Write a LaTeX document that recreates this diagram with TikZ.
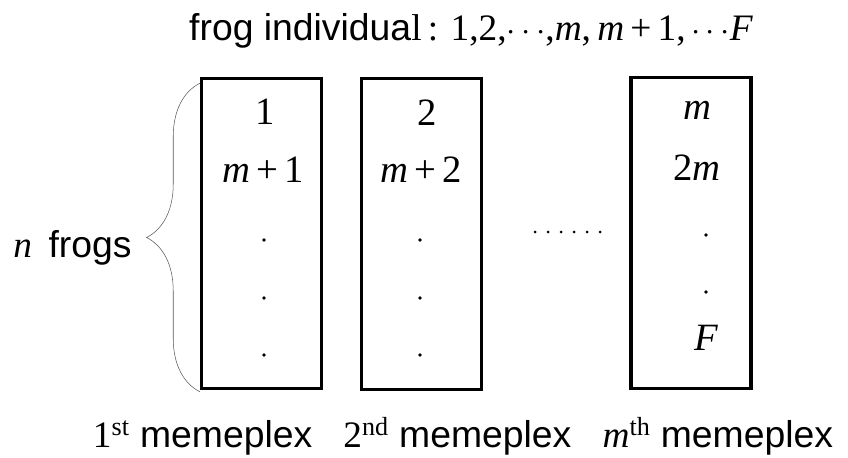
\documentclass[tikz,border=0pt]{standalone}
\usepackage{fontspec}
\setmainfont{Liberation Sans}
\newfontfamily\tnr{Liberation Serif}
\usetikzlibrary{decorations.pathreplacing}
\newcommand{\mv}[1]{{\tnr\itshape #1}}
\newcommand{\nv}[1]{{\tnr #1}}

\begin{document}
\begin{tikzpicture}[x=0.75pt,y=-0.75pt,
    plex/.style={draw, line width=2.4pt, minimum width=90pt, minimum height=233pt, inner sep=0pt},
    entry/.style={inner sep=0pt, font=\fontsize{29}{32}\selectfont\tnr}]

    \useasboundingbox (0,0) rectangle (848,457);
    \fontsize{28}{32}\selectfont

    \node (title) at (471,31) {frog individua\nv{l}\,\nv{: 1,2,$\cdots$,\mv{m},\,\mv{m}\,+\,1,$\,\cdots$\mv{F}}};

    \node[plex] (plex1) at (261.5,233.5) {};
    \node[plex] (plex2) at (421.5,234) {};
    \node[plex] (plexm) at (691,233) {};

    %first memeplex
    \node[entry] (a1) at (265,112) {1};
    \node[entry] (a2) at (263,170) {\mv{m}\,+\,1};
    %second memeplex
    \node[entry] (b1) at (427,113) {2};
    \node[entry] (b2) at (421,170) {\mv{m}\,+\,2};
    %m-th memeplex
    \node[entry] (c1) at (697,110) {\mv{m}};
    \node[entry] (c2) at (697,168) {2\mv{m}};
    \node[entry] (c3) at (706,338) {\mv{F}};
    %dots
    \foreach \y in {240,298,355} {
        \fill (264,\y) circle (1.8);
        \fill (420,\y) circle (1.8);
    }
    \foreach \y in {235,292} {
        \fill (706,\y) circle (1.8);
    }
    \foreach \x in {535,548,...,600} {
        \fill (\x,232) circle (1.5);
    }

    %brace
    \draw[gray!70!black, thin, decorate, decoration={brace, amplitude=40pt}]
        ([yshift=-1pt]plex1.south west) -- ([yshift=-5pt]plex1.north west)
        coordinate[pos=0.5] (tip);
    \node[right, inner sep=0pt] (frogs) at (13,248) {\mv{n}\, frogs};

    %labels
    \node (lab) at (463,436) {\nv{1\textsuperscript{st}} memeplex\;\; \nv{2\textsuperscript{nd}} memeplex\;\; \mv{m}\nv{\textsuperscript{th}} memeplex};

\end{tikzpicture}
\end{document}
